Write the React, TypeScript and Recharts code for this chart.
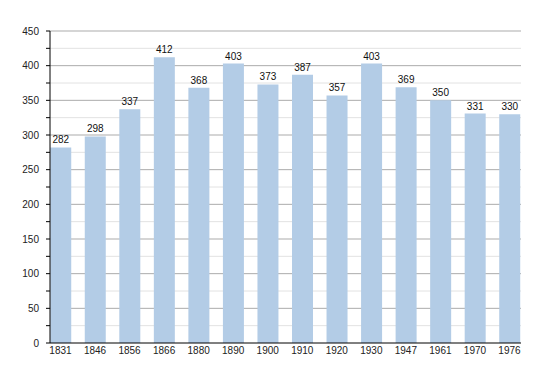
import React from "react";
import { BarChart, Bar, XAxis, YAxis, CartesianGrid, LabelList } from "recharts";

const years = ["1831", "1846", "1856", "1866", "1880", "1890", "1900", "1910", "1920", "1930", "1947", "1961", "1970", "1976"];
const population = [282, 298, 337, 412, 368, 403, 373, 387, 357, 403, 369, 350, 331, 330];
const yTicks = [0, 25, 50, 75, 100, 125, 150, 175, 200, 225, 250, 275, 300, 325, 350, 375, 400, 425, 450];
const minorGrid = yTicks.filter((t) => t % 50 !== 0);
const majorGrid = yTicks.filter((t) => t % 50 === 0 && t > 0);

const data = years.map((y, i) => ({ idx: i, year: y, value: population[i] }));

const FONT = "'Liberation Sans', Arial, sans-serif";

export default function App() {
  return (
    <div style={{ position: "absolute", left: 0, top: 0, background: "#fff" }}>
      <BarChart width={550} height={373} data={data} margin={{ top: 31, right: 29, bottom: 0, left: 0 }}>
        <CartesianGrid vertical={false} horizontalValues={minorGrid} stroke="#e2e2e2" />
        <CartesianGrid vertical={false} horizontalValues={majorGrid} stroke="#ababab" />
        <XAxis
          dataKey="idx"
          type="number"
          domain={[-0.304, 13.333]}
          ticks={data.map((d) => d.idx)}
          tickFormatter={(v: number) => years[v]}
          interval={0}
          height={30}
          tickSize={0}
          tickMargin={4}
          axisLine={{ stroke: "#000", strokeWidth: 1 }}
          tick={{ fill: "#222", fontSize: 10, fontFamily: FONT }}
          allowDataOverflow
        />
        <YAxis
          type="number"
          domain={[0, 450]}
          ticks={yTicks}
          interval={0}
          width={50}
          tickSize={4}
          tickMargin={7}
          tickFormatter={(v: number) => (v % 50 === 0 ? String(v) : "")}
          axisLine={{ stroke: "#000", strokeWidth: 1 }}
          tickLine={{ stroke: "#000" }}
          tick={{ fill: "#222", fontSize: 10, fontFamily: FONT }}
        />
        <Bar dataKey="value" fill="#b3cce6" barSize={21} isAnimationActive={false}>
          <LabelList dataKey="value" position="top" offset={4} style={{ fill: "#111", fontSize: 10, fontFamily: FONT }} />
        </Bar>
      </BarChart>
    </div>
  );
}
